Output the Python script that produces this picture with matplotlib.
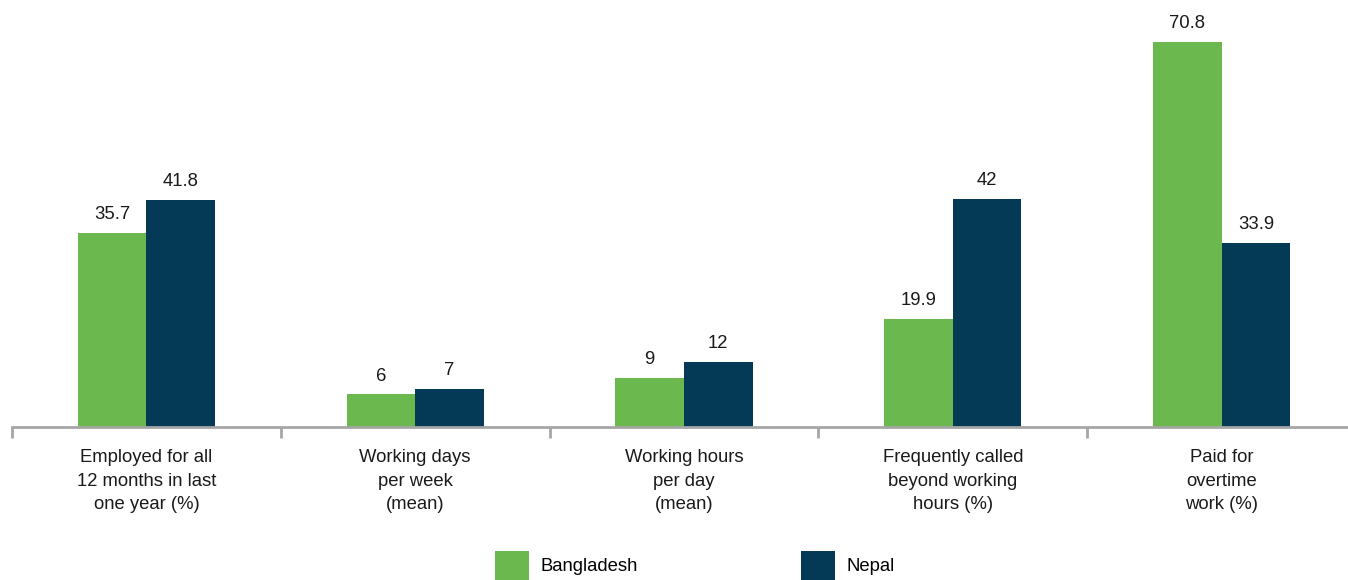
import matplotlib
matplotlib.use("Agg")
import matplotlib.pyplot as plt
import numpy as np

categories = [
    "Employed for all\n12 months in last\none year (%)",
    "Working days\nper week\n(mean)",
    "Working hours\nper day\n(mean)",
    "Frequently called\nbeyond working\nhours (%)",
    "Paid for\novertime\nwork (%)",
]
bangladesh = [35.7, 6, 9, 19.9, 70.8]
nepal = [41.8, 7, 12, 42, 33.9]
bangladesh_labels = ["35.7", "6", "9", "19.9", "70.8"]
nepal_labels = ["41.8", "7", "12", "42", "33.9"]

GREEN = "#6BB84F"
NAVY = "#053A57"
GRAY = "#A6A6A6"
TEXT = "#1a1a1a"
FS = 13.3

plt.rcParams["font.family"] = ["Liberation Sans", "DejaVu Sans"]

fig = plt.figure(figsize=(13.48, 5.80), dpi=100)
ax = fig.add_axes([12 / 1348, 153 / 580, 1344 / 1348, 427 / 580])

x = np.arange(len(categories))
w = 0.255
b1 = ax.bar(x - w / 2, bangladesh, w, color=GREEN, label="Bangladesh")
b2 = ax.bar(x + w / 2, nepal, w, color=NAVY, label="Nepal")

for bars, labels in ((b1, bangladesh_labels), (b2, nepal_labels)):
    for rect, lab in zip(bars, labels):
        ax.annotate(lab, (rect.get_x() + rect.get_width() / 2, rect.get_height()),
                    xytext=(0, 7), textcoords="offset points",
                    ha="center", va="bottom", fontsize=FS, color=TEXT)

ax.set_xlim(-0.5, len(categories) - 0.5)
ax.set_ylim(0, 78.5)
ax.set_yticks([])
for s in ("top", "right", "left"):
    ax.spines[s].set_visible(False)
ax.spines["bottom"].set_color(GRAY)
ax.spines["bottom"].set_linewidth(2)

ax.set_xticks(np.arange(len(categories) + 1) - 0.5)
ax.set_xticklabels([])
ax.tick_params(axis="x", which="major", direction="out", length=8, width=2, color=GRAY)
ax.set_xticks(x, minor=True)
ax.set_xticklabels(categories, minor=True, fontsize=FS, color=TEXT, linespacing=1.5)
ax.tick_params(axis="x", which="minor", length=0, pad=16)

ax.legend(loc="lower left", bbox_to_anchor=(495 / 1348, 0), bbox_transform=fig.transFigure,
          ncol=2, frameon=False, fontsize=FS, handlelength=1.85, handleheight=2.05,
          handletextpad=0.6, columnspacing=8.85, borderaxespad=0.0, borderpad=0.0)

fig.savefig("out.png", dpi=100)
